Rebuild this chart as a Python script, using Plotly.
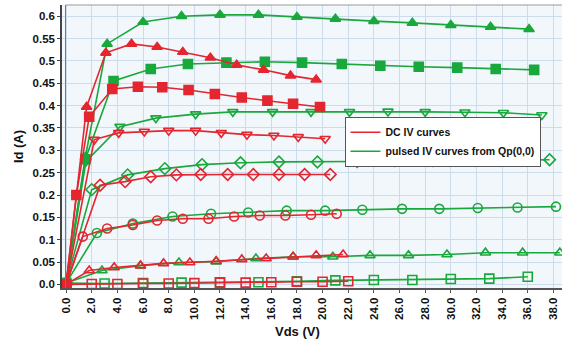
import plotly.graph_objects as go

# ---------------- data ----------------
# DC IV curves (red)
dc_tri_filled_x = [0, 1.6, 3.1, 5.1, 7.1, 9.1, 11.25, 13.3, 15.4, 17.5, 19.5]
dc_tri_filled_y = [0, 0.397, 0.518, 0.538, 0.531, 0.52, 0.507, 0.491, 0.48, 0.467, 0.458]

dc_sq_filled_x = [0, 0.8, 1.8, 3.6, 5.6, 7.5, 9.55, 11.6, 13.7, 15.7, 17.7, 19.8]
dc_sq_filled_y = [0, 0.2, 0.375, 0.437, 0.442, 0.441, 0.435, 0.426, 0.418, 0.411, 0.404, 0.397]

dc_tridown_x = [0, 2.2, 4.1, 6.1, 8.0, 10.1, 12.1, 14.1, 16.2, 18.1, 20.2]
dc_tridown_y = [0, 0.324, 0.339, 0.342, 0.344, 0.344, 0.339, 0.335, 0.333, 0.33, 0.326]

dc_diamond_x = [0, 2.65, 4.6, 6.6, 8.6, 10.5, 12.6, 14.6, 16.6, 18.6, 20.6]
dc_diamond_y = [0, 0.222, 0.23, 0.241, 0.245, 0.246, 0.246, 0.246, 0.246, 0.246, 0.246]

dc_circle_x = [0, 1.3, 3.2, 5.2, 7.1, 9.1, 11.1, 13.1, 15.1, 17.1, 19.1, 21.1]
dc_circle_y = [0, 0.107, 0.125, 0.133, 0.143, 0.147, 0.147, 0.152, 0.154, 0.154, 0.156, 0.158]

dc_tri_open_x = [0, 1.8, 3.75, 5.8, 7.6, 9.65, 11.7, 13.7, 15.6, 17.7, 19.5, 21.6]
dc_tri_open_y = [0, 0.031, 0.038, 0.042, 0.047, 0.049, 0.052, 0.056, 0.058, 0.062, 0.065, 0.067]

dc_sq_open_x = [0, 2, 4, 6, 8, 10, 12, 14, 16, 18, 20, 22]
dc_sq_open_y = [0, 0.001, 0.001, 0.002, 0.002, 0.003, 0.004, 0.004, 0.005, 0.006, 0.006, 0.007]

# pulsed IV curves from Qp(0,0) (green)
p_tri_filled_x = [0, 1.5, 3.2, 6.0, 9.0, 12, 15, 18, 21, 24, 27, 30, 33.1, 36.1]
p_tri_filled_y = [0.003, 0.285, 0.538, 0.587, 0.6, 0.603, 0.603, 0.598, 0.594, 0.589, 0.585, 0.58, 0.576, 0.571]

p_sq_filled_x = [0, 1.5, 3.7, 6.6, 9.5, 12.5, 15.5, 18.4, 21.5, 24.5, 27.5, 30.5, 33.5, 36.5]
p_sq_filled_y = [0.003, 0.28, 0.455, 0.482, 0.493, 0.496, 0.498, 0.496, 0.493, 0.489, 0.487, 0.485, 0.482, 0.48]

p_tridown_x = [0, 1.55, 4.2, 7.0, 10.1, 13.0, 16.1, 19.1, 22.1, 25.1, 28.0, 31.1, 34.1, 37.1]
p_tridown_y = [0.003, 0.275, 0.353, 0.372, 0.381, 0.386, 0.386, 0.386, 0.386, 0.387, 0.386, 0.385, 0.384, 0.379]

p_diamond_x = [0, 2.0, 4.8, 7.7, 10.6, 13.6, 16.6, 19.6, 22.7, 25.6, 28.6, 31.6, 34.7, 37.7]
p_diamond_y = [0.003, 0.212, 0.245, 0.259, 0.268, 0.272, 0.274, 0.274, 0.275, 0.277, 0.277, 0.278, 0.278, 0.279]

p_circle_x = [0, 2.4, 5.2, 8.3, 11.3, 14.2, 17.2, 20.2, 23.1, 26.2, 29.1, 32.1, 35.2, 38.2]
p_circle_y = [0.003, 0.115, 0.136, 0.152, 0.158, 0.161, 0.165, 0.165, 0.167, 0.169, 0.169, 0.171, 0.172, 0.174]

p_tri_open_x = [0, 2.8, 5.8, 8.8, 11.7, 14.8, 17.7, 20.8, 23.7, 26.7, 29.7, 32.7, 35.6, 38.5]
p_tri_open_y = [0.003, 0.031, 0.042, 0.049, 0.051, 0.058, 0.062, 0.062, 0.065, 0.065, 0.067, 0.071, 0.071, 0.071]

p_sq_open_x = [0, 3, 6, 9, 12, 15, 18, 21, 24, 27, 30, 33, 36]
p_sq_open_y = [0.003, 0.002, 0.003, 0.004, 0.005, 0.005, 0.007, 0.009, 0.01, 0.01, 0.012, 0.013, 0.017]

x_tick_vals = [0, 2, 4, 6, 8, 10, 12, 14, 16, 18, 20, 22, 24, 26, 28, 30, 32, 34, 36, 38]
x_tick_text = ["0.0", "2.0", "4.0", "6.0", "8.0", "10.0", "12.0", "14.0", "16.0", "18.0",
               "20.0", "22.0", "24.0", "26.0", "28.0", "30.0", "32.0", "34.0", "36.0", "38.0"]
y_tick_vals = [0, 0.05, 0.1, 0.15, 0.2, 0.25, 0.3, 0.35, 0.4, 0.45, 0.5, 0.55, 0.6]
y_tick_text = ["0.0", "0.05", "0.1", "0.15", "0.2", "0.25", "0.3", "0.35", "0.4", "0.45", "0.5", "0.55", "0.6"]

legend_names = ["DC IV curves", "pulsed IV curves from Qp(0,0)"]
x_title = "Vds (V)"
y_title = "Id (A)"

# ---------------- figure ----------------
RED = "#e3262f"
GREEN = "#19a83c"

fig = go.Figure()

green_series = [
    (p_tri_filled_x, p_tri_filled_y, "triangle-up"),
    (p_sq_filled_x, p_sq_filled_y, "square"),
    (p_tridown_x, p_tridown_y, "triangle-down-open"),
    (p_diamond_x, p_diamond_y, "diamond-open"),
    (p_circle_x, p_circle_y, "circle-open"),
    (p_tri_open_x, p_tri_open_y, "triangle-up-open"),
    (p_sq_open_x, p_sq_open_y, "square-open"),
]
red_series = [
    (dc_tri_filled_x, dc_tri_filled_y, "triangle-up"),
    (dc_sq_filled_x, dc_sq_filled_y, "square"),
    (dc_tridown_x, dc_tridown_y, "triangle-down-open"),
    (dc_diamond_x, dc_diamond_y, "diamond-open"),
    (dc_circle_x, dc_circle_y, "circle-open"),
    (dc_tri_open_x, dc_tri_open_y, "triangle-up-open"),
    (dc_sq_open_x, dc_sq_open_y, "square-open"),
]

for xs, ys, sym in green_series:
    fig.add_trace(go.Scatter(
        x=xs, y=ys, mode="lines+markers", showlegend=False,
        line=dict(color=GREEN, width=1.6),
        marker=dict(symbol=sym, size=9, color=GREEN,
                    line=dict(color=GREEN, width=1.6)),
    ))

for xs, ys, sym in red_series:
    fig.add_trace(go.Scatter(
        x=xs, y=ys, mode="lines+markers", showlegend=False,
        line=dict(color=RED, width=1.6),
        marker=dict(symbol=sym, size=9, color=RED,
                    line=dict(color=RED, width=1.6)),
    ))

# legend entries
fig.add_trace(go.Scatter(x=[None], y=[None], mode="lines", name=legend_names[0],
                         line=dict(color=RED, width=1.6)))
fig.add_trace(go.Scatter(x=[None], y=[None], mode="lines", name=legend_names[1],
                         line=dict(color=GREEN, width=1.6)))

fig.update_layout(
    width=562, height=347,
    margin=dict(l=62, r=0, t=5, b=59),
    paper_bgcolor="white",
    plot_bgcolor="#f2f7fc",
    font=dict(family="Liberation Sans, Arial, sans-serif", color="#111"),
    legend=dict(
        x=0.565, y=0.605, xanchor="left", yanchor="top",
        bgcolor="white", bordercolor="#555", borderwidth=1,
        font=dict(size=10.5, weight="bold", color="#111"),
        itemwidth=30, tracegroupgap=0,
    ),
    xaxis=dict(
        range=[-0.32, 38.67],
        automargin=False,
        tickmode="array", tickvals=x_tick_vals, ticktext=x_tick_text,
        tickangle=-90,
        tickfont=dict(size=11.5, weight="bold"),
        showgrid=True, gridcolor="#cddceb", gridwidth=1,
        zeroline=False,
        showline=True, linecolor="#555", linewidth=2,
        ticks="outside", ticklen=3, tickcolor="#555",
    ),
    yaxis=dict(
        range=[-0.008, 0.625],
        automargin=False,
        tickmode="array", tickvals=y_tick_vals, ticktext=y_tick_text,
        tickfont=dict(size=11.5, weight="bold"),
        showgrid=True, gridcolor="#cddceb", gridwidth=1,
        zeroline=False,
        showline=True, linecolor="#444", linewidth=1.5,
        ticks="outside", ticklen=3, tickcolor="#444",
        title=dict(text="<b>" + y_title + "</b>", font=dict(size=13), standoff=6),
    ),
    annotations=[
        dict(text="<b>" + x_title + "</b>", xref="paper", yref="paper",
             x=0.47, y=-0.155, xanchor="center", yanchor="middle",
             showarrow=False, font=dict(size=13, color="#111")),
    ],
    shapes=[
        dict(type="line", xref="paper", yref="paper", x0=0.007, x1=0.007, y0=0, y1=1,
             line=dict(color="#777", width=1)),
        dict(type="line", xref="paper", yref="paper", x0=0.007, x1=1, y0=1, y1=1,
             line=dict(color="#999", width=1)),
    ],
)

fig.write_html("out.html", config={"displayModeBar": False},
               post_script="document.body.style.margin='0';")
